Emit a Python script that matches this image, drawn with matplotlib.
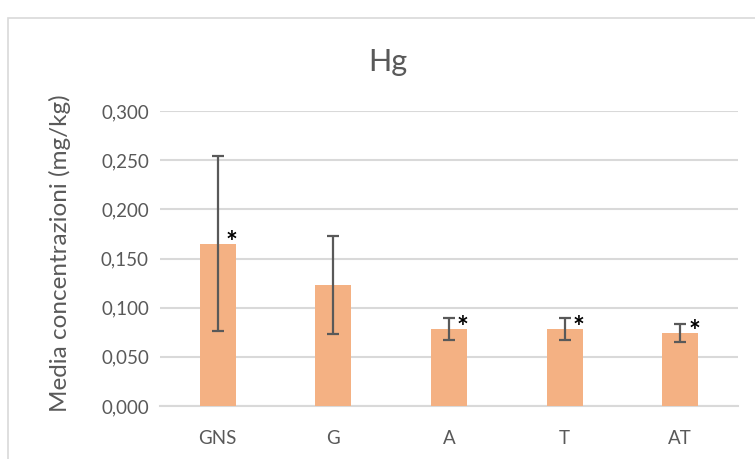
import matplotlib
matplotlib.use("Agg")
import matplotlib.pyplot as plt
from matplotlib.patches import Rectangle

categories = ["GNS", "G", "A", "T", "AT"]
means = [0.165, 0.123, 0.078, 0.078, 0.074]
errors = [0.089, 0.050, 0.011, 0.011, 0.009]
significant = [True, False, True, True, True]
yticks = [0.0, 0.05, 0.10, 0.15, 0.20, 0.25, 0.30]
ytick_labels = ["0,000", "0,050", "0,100", "0,150", "0,200", "0,250", "0,300"]
title = "Hg"
ylabel = "Media concentrazioni (mg/kg)"

plt.rcParams['font.family'] = ['Lato', 'DejaVu Sans']
txt = "#595959"

fig = plt.figure(figsize=(7.55, 4.59), dpi=100)
fig.patches.append(Rectangle((8/755, -0.05), 1.1, 0.05 + 1 - 18/459,
                             transform=fig.transFigure, fill=False,
                             edgecolor="#d9d9d9", linewidth=1.2))
ax = fig.add_axes([160/755, 1 - 406/459, (738 - 160)/755, (406 - 111)/459])

x = list(range(len(categories)))
ax.bar(x, means, width=0.31, color="#F4B183", zorder=3)
ax.errorbar(x, means, yerr=errors, fmt="none", ecolor="#595959",
            elinewidth=1.6, capsize=4.5, capthick=1.6, zorder=4)
for xi, m, s in zip(x, means, significant):
    if s:
        ax.annotate("*", (xi, m), xytext=(10, -5), textcoords="offset points",
                    ha="center", va="baseline", fontsize=20, fontweight="bold",
                    color="black", zorder=5)

ax.set_xlim(-0.5, len(categories) - 0.5)
ax.set_ylim(0, 0.3)
ax.set_yticks(yticks)
ax.set_yticklabels(ytick_labels)
ax.set_xticks(x)
ax.set_xticklabels(categories)
ax.grid(axis="y", color="#d9d9d9", linewidth=1.5, zorder=0)
for sp in ["top", "right", "left"]:
    ax.spines[sp].set_visible(False)
ax.spines["bottom"].set_color("#d9d9d9")
ax.spines["bottom"].set_linewidth(1.5)
ax.tick_params(axis="both", length=0, colors=txt, labelsize=13.5)
ax.tick_params(axis="y", pad=8)
ax.tick_params(axis="x", pad=17)
fig.text(60/755, 1 - 253/459, ylabel, rotation=90, ha="center", va="center",
         color=txt, fontsize=17.5)
fig.text(388/755, 1 - 62/459, title, ha="center", va="center",
         fontsize=22, color=txt)

fig.savefig("out.png", dpi=100)
